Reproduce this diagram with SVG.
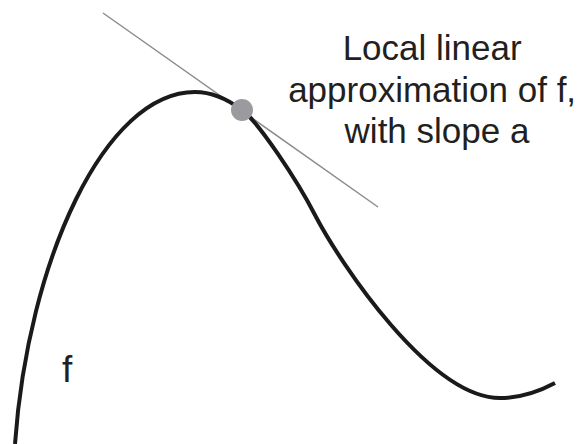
<svg xmlns="http://www.w3.org/2000/svg" width="586" height="444" viewBox="0 0 586 444">
<style>
.lbl{font-family:"Liberation Sans",Arial,sans-serif;fill:#231f20;}
.curve{fill:none;stroke:#1a1a1a;stroke-width:4;stroke-linecap:butt;}
.tan{stroke:#8c8c8c;stroke-width:1.5;}
</style>
<rect width="586" height="444" fill="#ffffff"/>
<g id="connectors">
<line class="tan" x1="103" y1="13" x2="378" y2="207"/>
</g>
<g id="curve-f">
<path class="curve" d="M15,444 C28,260 105,92 195,92 C215,92 230,101 242,110 C258,121.4 297,180 315,215 C340,263 430,398 500,398 C520,398 540,391 555,383"/>
<text class="lbl" x="62" y="382" font-size="37">f</text>
</g>
<g id="point">
<circle cx="242" cy="110" r="11" fill="#9b9b9f"/>
</g>
<g id="label">
<text class="lbl" font-size="35" text-anchor="middle">
<tspan x="437" y="60">Local linear</tspan>
<tspan x="437" y="101.5">approximation of f,</tspan>
<tspan x="437" y="143">with slope a</tspan>
</text>
</g>
</svg>
